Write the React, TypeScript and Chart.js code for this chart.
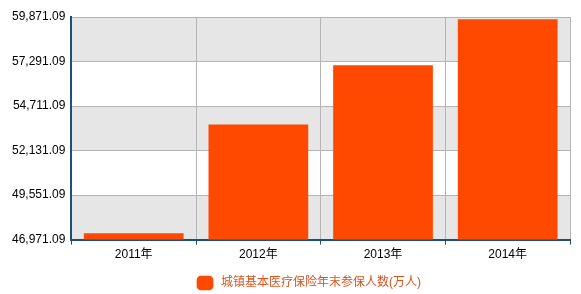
import React, { useEffect, useRef } from "react";
import { Chart, registerables } from "chart.js";

Chart.register(...registerables);

const categories = ["2011年", "2012年", "2013年", "2014年"];
const seriesLabel = "城镇基本医疗保险年末参保人数(万人)";
const seriesValues = [47343.2, 53641.3, 57072.6, 59746.9];
const yMin = 46971.09;
const yMax = 59871.09;
const yStep = 2580;

const bandPlugin = {
  id: "bands",
  beforeDraw(chart: any) {
    const { ctx, chartArea, scales } = chart;
    const y = scales.y;
    const ticks = y.ticks;
    ctx.save();
    for (let i = 0; i < ticks.length - 1; i++) {
      if (i % 2 === 0) {
        const y0 = y.getPixelForValue(ticks[i].value);
        const y1 = y.getPixelForValue(ticks[i + 1].value);
        ctx.fillStyle = "#e6e6e6";
        ctx.fillRect(chartArea.left, y1, chartArea.right - chartArea.left, y0 - y1);
      }
    }
    ctx.restore();
  },
};

const legendShift = {
  id: "legendShift",
  afterLayout(chart: any) {
    const lg = chart.legend;
    if (!lg) return;
    lg.left += 20;
    lg.right += 20;
    lg.top += 5;
    lg.bottom += 5;
  },
};

export default function App() {
  const ref = useRef<HTMLCanvasElement>(null);
  useEffect(() => {
    document.body.style.margin = "0";
    const font = "'Liberation Sans', Arial, 'Noto Sans CJK SC', sans-serif";
    const chart = new Chart(ref.current!, {
      type: "bar",
      data: {
        labels: categories,
        datasets: [
          {
            label: seriesLabel,
            data: seriesValues,
            backgroundColor: "#ff4800",
            borderWidth: 0,
            barPercentage: 0.8,
            categoryPercentage: 1,
          },
        ],
      },
      options: {
        animation: false,
        responsive: false,
        layout: { padding: { left: 6, right: 11, top: 17, bottom: 0 } },
        plugins: {
          legend: {
            position: "bottom",
            labels: {
              color: "#d9541e",
              usePointStyle: true,
              pointStyle: "rectRounded",
              pointStyleWidth: 20,
              boxHeight: 12,
              padding: 7,
              font: { family: font, size: 12 },
            },
          },
          tooltip: { enabled: false },
        },
        scales: {
          x: {
            grid: {
              color: "#b4b4b4",
              offset: true,
              tickColor: "#1f4e79",
              tickLength: 5,
            },
            border: { color: "#1f4e79", width: 2 },
            ticks: { color: "#000", font: { family: font, size: 12 }, padding: 3 },
          },
          y: {
            min: yMin,
            max: yMax,
            grid: { color: "#b4b4b4", drawTicks: false },
            border: { color: "#1f4e79", width: 2 },
            ticks: {
              stepSize: yStep,
              color: "#000",
              padding: 6,
              font: { family: font, size: 12 },
              callback: (v: any) =>
                Number(v).toLocaleString("en-US", { minimumFractionDigits: 2, maximumFractionDigits: 2 }),
            },
          },
        },
      },
      plugins: [bandPlugin, legendShift],
    });
    return () => chart.destroy();
  }, []);
  return (
    <div style={{ width: 581, height: 294 }}>
      <canvas ref={ref} width={581} height={294} />
    </div>
  );
}
